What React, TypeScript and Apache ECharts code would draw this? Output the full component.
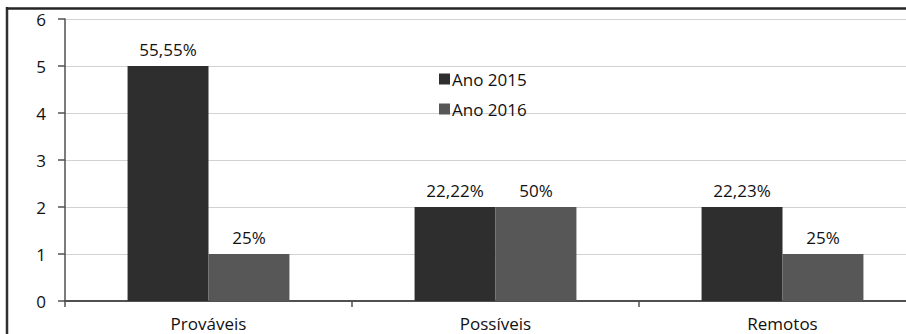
import React, { useEffect, useRef } from "react";
import * as echarts from "echarts";

// Categories of contingencies and the count of cases per year
const categories = ["Prováveis", "Possíveis", "Remotos"];
const seriesNames = ["Ano 2015", "Ano 2016"];
const counts2015 = [5, 2, 2];
const counts2016 = [1, 2, 1];
// Share of each category within its year, shown above the bars
const share2015 = ["55,55%", "22,22%", "22,23%"];
const share2016 = ["25%", "50%", "25%"];
const yTicks = { min: 0, max: 6, interval: 1 };

const FONT = "'Open Sans', 'Liberation Sans', sans-serif";
const TEXT = "#111111";
const AXIS = "#505050";
const SIZE = 17;

export default function App() {
  const ref = useRef<HTMLDivElement>(null);

  useEffect(() => {
    if (!ref.current) return;
    const chart = echarts.init(ref.current, null, { renderer: "svg" });

    const makeSeries = (
      name: string,
      values: number[],
      labels: string[],
      color: string
    ) => ({
      name,
      type: "bar",
      data: values,
      barWidth: "28.2%",
      barGap: "0%",
      itemStyle: { color },
      label: {
        show: true,
        position: "top",
        distance: 8,
        color: TEXT,
        fontFamily: FONT,
        fontSize: SIZE,
        formatter: (p: any) => labels[p.dataIndex],
      },
    });

    chart.setOption({
      animation: false,
      backgroundColor: "#ffffff",
      grid: { left: 65, right: 14, top: 19, bottom: 39, containLabel: false },
      legend: {
        orient: "vertical",
        left: 434,
        top: 63,
        itemWidth: 11,
        itemHeight: 11,
        itemGap: 8,
        icon: "rect",
        textStyle: {
          fontFamily: FONT,
          fontSize: SIZE,
          color: TEXT,
          lineHeight: 22,
          padding: [0, 0, 0, -3],
        },
        data: seriesNames,
      },
      xAxis: {
        type: "category",
        data: categories,
        axisLine: { show: true, lineStyle: { color: AXIS, width: 2 } },
        axisTick: {
          show: true,
          alignWithLabel: false,
          interval: 0,
          length: 6,
          lineStyle: { color: AXIS, width: 1.5 },
        },
        axisLabel: {
          color: TEXT,
          fontFamily: FONT,
          fontSize: SIZE,
          lineHeight: 17,
          margin: 14,
        },
      },
      yAxis: {
        type: "value",
        min: yTicks.min,
        max: yTicks.max,
        interval: yTicks.interval,
        axisLine: { show: true, lineStyle: { color: AXIS, width: 1.5 } },
        axisTick: { show: true, length: 7, lineStyle: { color: AXIS, width: 1.5 } },
        splitLine: { show: true, lineStyle: { color: "#d2d2d2", width: 1 } },
        axisLabel: {
          color: TEXT,
          fontFamily: FONT,
          fontSize: SIZE,
          margin: 19,
        },
      },
      graphic: [
        {
          type: "line",
          shape: { x1: 7, y1: 7, x2: 7, y2: 340 },
          style: { stroke: "#303030", lineWidth: 2.5 },
          silent: true,
        },
        {
          type: "line",
          shape: { x1: 6, y1: 8.5, x2: 940, y2: 8.5 },
          style: { stroke: "#252525", lineWidth: 2.5 },
          silent: true,
        },
      ],
      series: [
        makeSeries(seriesNames[0], counts2015, share2015, "#2e2e2e"),
        makeSeries(seriesNames[1], counts2016, share2016, "#575757"),
      ],
    });

    return () => chart.dispose();
  }, []);

  return (
    <div
      style={{
        position: "absolute",
        left: 0,
        top: 0,
        width: 906,
        height: 334,
        overflow: "hidden",
        background: "#ffffff",
      }}
    >
      <div ref={ref} style={{ width: 940, height: 340 }} />
    </div>
  );
}
